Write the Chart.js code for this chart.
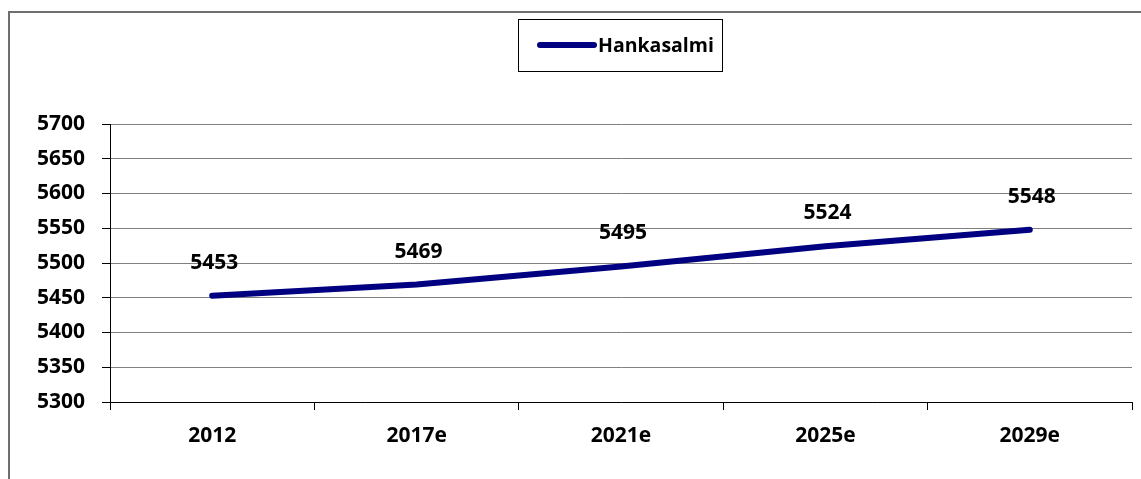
<!DOCTYPE html>
<html>
<head>
<meta charset="utf-8">
<script src="https://cdn.jsdelivr.net/npm/chart.js@4"></script>
<style>
  html, body { margin: 0; padding: 0; background: #fff; }
  #wrap { position: absolute; left: 0; top: 0; width: 1141px; height: 479px; }
  #frame { position: absolute; left: 8px; top: 11px; width: 1133px; height: 468px;
           border-left: 2px solid #6e6e6e; border-top: 2px solid #6e6e6e; box-sizing: border-box; }
</style>
</head>
<body>
<div id="frame"></div>
<div id="wrap"><canvas id="chart" width="1141" height="479"></canvas></div>
<script>
const years = ["2012", "2017e", "2021e", "2025e", "2029e"];
const population = [5453, 5469, 5495, 5524, 5548];
const seriesName = "Hankasalmi";

const lineColor = "#000080";
const font = "'Open Sans'";
const weight = "bold";

// value labels above each point
const valueLabels = {
  id: "valueLabels",
  afterDatasetsDraw(chart) {
    const ctx = chart.ctx;
    const meta = chart.getDatasetMeta(0);
    ctx.save();
    ctx.font = weight + " 21px " + font;
    ctx.fillStyle = "#000";
    ctx.textAlign = "center";
    ctx.textBaseline = "middle";
    meta.data.forEach((pt, i) => {
      ctx.fillText(population[i], pt.x + 2, pt.y - 33);
    });
    ctx.restore();
  }
};

// boxed legend at the top
const boxLegend = {
  id: "boxLegend",
  afterDraw(chart) {
    const ctx = chart.ctx;
    ctx.save();
    ctx.strokeStyle = "#000";
    ctx.lineWidth = 1;
    ctx.strokeRect(518.5, 19.5, 204, 52);
    ctx.strokeStyle = lineColor;
    ctx.lineWidth = 6;
    ctx.lineCap = "round";
    ctx.beginPath();
    ctx.moveTo(540, 45);
    ctx.lineTo(594, 45);
    ctx.stroke();
    ctx.font = weight + " 19.5px " + font;
    ctx.fillStyle = "#000";
    ctx.textBaseline = "middle";
    ctx.fillText(seriesName, 598, 46);
    ctx.restore();
  }
};

new Chart(document.getElementById("chart"), {
  type: "line",
  data: {
    labels: years,
    datasets: [{
      label: seriesName,
      data: population,
      borderColor: lineColor,
      backgroundColor: lineColor,
      borderWidth: 6,
      borderCapStyle: "round",
      borderJoinStyle: "round",
      pointRadius: 0,
      tension: 0
    }]
  },
  options: {
    responsive: false,
    animation: false,
    layout: { padding: { top: 124, right: 9, left: 0, bottom: 0 } },
    plugins: { legend: { display: false }, tooltip: { enabled: false } },
    scales: {
      x: {
        offset: true,
        grid: { offset: true, drawOnChartArea: false, drawTicks: true, tickLength: 8, color: "#000" },
        border: { color: "#000", width: 1 },
        ticks: { color: "#000", font: { family: font, size: 21, weight: weight }, padding: 13 },
        afterFit(s) { s.height = 77; }
      },
      y: {
        min: 5300,
        max: 5700,
        grid: { color: "#808080", tickLength: 8, tickColor: "#000" },
        border: { color: "#000", width: 1 },
        ticks: {
          stepSize: 50,
          color: "#000",
          font: { family: font, size: 21, weight: weight },
          padding: 17,
          callback: (v) => String(v)
        },
        afterFit(s) { s.width = 110; }
      }
    }
  },
  plugins: [valueLabels, boxLegend]
});
</script>
</body>
</html>
